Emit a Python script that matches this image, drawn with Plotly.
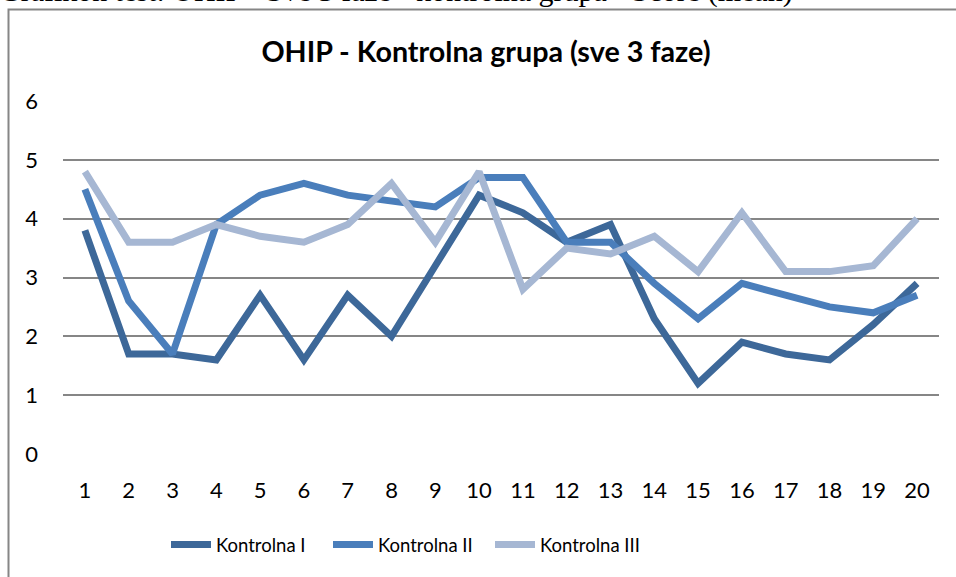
import plotly.graph_objects as go

# Subjects / measurement points on the x axis
categories = [str(i) for i in range(1, 21)]

# Mean OHIP scores per control phase
kontrolna_1 = [3.8, 1.7, 1.7, 1.6, 2.7, 1.6, 2.7, 2.0, 3.2, 4.4,
               4.1, 3.6, 3.9, 2.3, 1.2, 1.9, 1.7, 1.6, 2.2, 2.9]
kontrolna_2 = [4.5, 2.6, 1.7, 3.9, 4.4, 4.6, 4.4, 4.3, 4.2, 4.7,
               4.7, 3.6, 3.6, 2.9, 2.3, 2.9, 2.7, 2.5, 2.4, 2.7]
kontrolna_3 = [4.8, 3.6, 3.6, 3.9, 3.7, 3.6, 3.9, 4.6, 3.6, 4.8,
               2.8, 3.5, 3.4, 3.7, 3.1, 4.1, 3.1, 3.1, 3.2, 4.0]

series_names = ["Kontrolna I", "Kontrolna II", "Kontrolna III"]
y_ticks = [0, 1, 2, 3, 4, 5, 6]

colors = ["#3D6899", "#4A7EBB", "#A6B7D3"]
FONT = "Lato"
W, H = 956, 577
ML, MR, MT, MB = 63, 17, 101, 123
PW, PH = W - ML - MR, H - MT - MB


def px_x(x):
    return (x - ML) / PW


def px_y(y):
    return 1 + (MT - y) / PH


fig = go.Figure()
for name, vals, col in zip(series_names, [kontrolna_1, kontrolna_2, kontrolna_3], colors):
    fig.add_trace(go.Scatter(
        x=categories, y=vals, name=name, mode="lines",
        line=dict(color=col, width=7),
    ))

fig.update_layout(
    width=W, height=H,
    margin=dict(l=ML, r=MR, t=MT, b=MB),
    paper_bgcolor="white", plot_bgcolor="white",
    font=dict(family=FONT, color="black", size=22),
    title=dict(
        text="<b>OHIP - Kontrolna grupa (sve 3 faze)</b>",
        x=px_x(486), xref="paper", xanchor="center",
        y=1 - 52 / H, yref="container", yanchor="middle",
        font=dict(family=FONT, size=28.7, color="black"),
    ),
    showlegend=True,
    legend=dict(
        orientation="h", x=px_x(166), xanchor="left", xref="paper",
        y=1 - 545 / H, yref="container", yanchor="middle",
        font=dict(family=FONT, size=18.5, color="black"),
        itemwidth=40, tracegroupgap=0,
        entrywidth=107, entrywidthmode="pixels",
    ),
    xaxis=dict(
        type="category", range=[-0.5, 19.5], showgrid=False, zeroline=False,
        showline=False, ticks="", ticklabelstandoff=21,
        tickfont=dict(family=FONT, size=22),
    ),
    yaxis=dict(
        range=[0, 6], tickvals=y_ticks, showgrid=True, gridcolor="#868686",
        gridwidth=1.5, zeroline=False, showline=False, ticks="",
        ticklabelstandoff=24, tickfont=dict(family=FONT, size=22),
    ),
)

# Chart frame
fig.add_shape(type="rect", xref="paper", yref="paper",
              x0=px_x(8.5), x1=1.1, y0=-0.5, y1=px_y(9.5),
              line=dict(color="#868686", width=2), layer="below")

# Caption line above the chart frame
fig.add_annotation(
    text="Grafikon test: OHIP - Sve 3 faze - kontrolna grupa - Score (mean)",
    xref="paper", yref="paper", x=px_x(-3), y=px_y(10), xanchor="left", yanchor="bottom",
    showarrow=False, font=dict(family="Liberation Serif", size=30, color="black"),
)

fig.write_html("out.html")
